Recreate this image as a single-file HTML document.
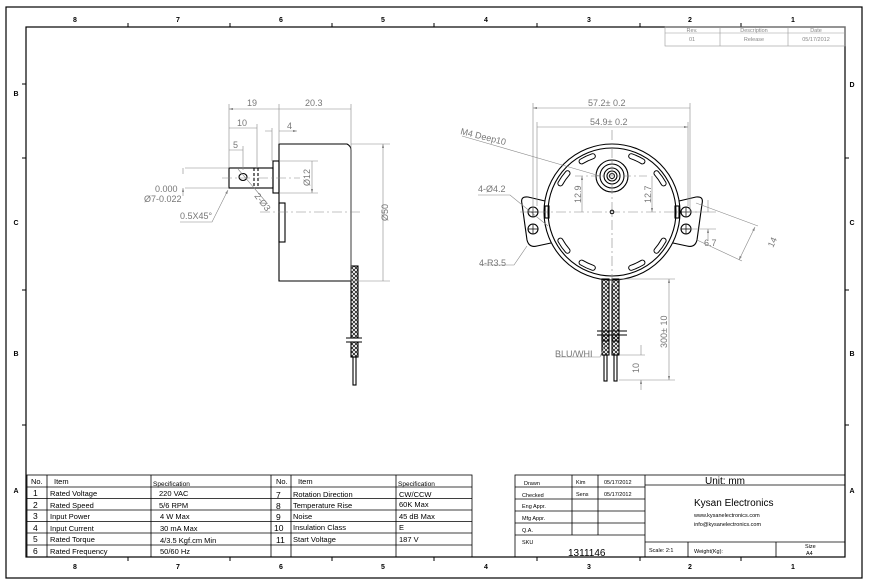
<!DOCTYPE html>
<html><head><meta charset="utf-8"><style>
html,body{margin:0;padding:0;background:#fff}
svg{display:block}
text{font-family:"Liberation Sans",sans-serif}
</style></head><body>
<svg width="870" height="585" viewBox="0 0 870 585" xmlns="http://www.w3.org/2000/svg">
<defs>
<marker id="a" viewBox="0 0 10 6" refX="10" refY="3" markerWidth="8" markerHeight="4" orient="auto-start-reverse"><path d="M0,0L10,3L0,6z" fill="#888"/></marker>
<pattern id="x" width="4" height="4" patternUnits="userSpaceOnUse"><path d="M0,0L4,4M4,0L0,4" stroke="#000" stroke-width="0.7"/></pattern>
</defs>
<rect x="6" y="7" width="856" height="571" fill="none" stroke="#000" stroke-width="1.2"/>
<rect x="26" y="27" width="819" height="530" fill="none" stroke="#000" stroke-width="1.2"/>
<g font-size="7" font-weight="bold" text-anchor="middle">
<text x="75" y="22">8</text><text x="178" y="22">7</text><text x="281" y="22">6</text><text x="383" y="22">5</text><text x="486" y="22">4</text><text x="589" y="22">3</text><text x="690" y="22">2</text><text x="793" y="22">1</text>
<text x="75" y="569">8</text><text x="178" y="569">7</text><text x="281" y="569">6</text><text x="383" y="569">5</text><text x="486" y="569">4</text><text x="589" y="569">3</text><text x="690" y="569">2</text><text x="793" y="569">1</text>
<text x="16" y="96">B</text><text x="16" y="225">C</text><text x="16" y="356">B</text><text x="16" y="493">A</text>
<text x="852" y="87">D</text><text x="852" y="225">C</text><text x="852" y="356">B</text><text x="852" y="493">A</text>
</g>
<g stroke="#000" stroke-width="1">
<path d="M128,23V27M230,23V27M332,23V27M434,23V27M537,23V27M640,23V27M741,23V27"/>
<path d="M128,557V561M230,557V561M332,557V561M434,557V561M537,557V561M640,557V561M741,557V561"/>
<path d="M26,84H22M26,158H22M26,290H22M26,425H22M845,158H849M845,290H849M845,425H849"/>
</g>
<!-- rev table -->
<g stroke="#999" stroke-width="0.6" fill="none"><rect x="665" y="27" width="180" height="19"/><path d="M665,33H845M720,27V46M788,27V46"/></g>
<g font-size="5.5" fill="#888" text-anchor="middle"><text x="692" y="32">Rev.</text><text x="754" y="32">Description</text><text x="816" y="32">Date</text><text x="692" y="41">01</text><text x="754" y="41">Release</text><text x="816" y="41">05/17/2012</text></g>

<!-- LEFT VIEW -->
<g fill="none" stroke="#000" stroke-width="1.1">
<path d="M279,144H347Q351,146 351,150V281H279Z"/>
<rect x="273" y="161" width="6" height="32"/>
<rect x="229" y="168" width="44" height="20"/>
<rect x="279" y="203" width="6" height="39"/>
<ellipse cx="243" cy="177" rx="4" ry="3.5"/>
<path d="M254,168V188M258,168V188" stroke-dasharray="3,2"/>
<rect x="351" y="266" width="7" height="72" fill="url(#x)"/>
<path d="M346,338H362M346,342H362"/>
<rect x="351" y="342" width="7" height="15" fill="url(#x)"/>
<rect x="353" y="357" width="3" height="28"/>
</g>
<g stroke="#888" stroke-width="0.6" fill="none">
<path d="M260,212H360" stroke-dasharray="10,3,2,3"/>
<path d="M222,178H300" stroke-dasharray="10,3,2,3"/>
<path d="M229,104V168M279,104V144M351,104V281M257,124V168M243,146V170M272,128V161M238,169L266,202"/>
<path d="M351,144H390M351,281H390M279,161H318M279,193H318M185,168H229M185,188H229"/>
<path d="M229,109H279M279,109H351M229,128H257M229,150H243M265,131H272M279,131H297" marker-end="url(#a)" marker-start="url(#a)"/>
<path d="M383,144V281M312,161V193" marker-end="url(#a)" marker-start="url(#a)"/>
<path d="M183,174V168M183,196V188" marker-end="url(#a)"/>
<path d="M180,222H212L228,190" marker-end="url(#a)"/>
</g>
<g font-size="9" fill="#777">
<text x="247" y="106">19</text><text x="305" y="106">20.3</text><text x="237" y="126">10</text><text x="233" y="148">5</text><text x="287" y="129">4</text>
<text x="155" y="192">0.000</text><text x="144" y="202">Ø7-0.022</text><text x="180" y="219">0.5X45°</text>
<text transform="translate(388,221) rotate(-90)">Ø50</text>
<text transform="translate(310,186) rotate(-90)">Ø12</text>
<text transform="translate(254,196) rotate(52)">2-Ø3</text>
</g>

<!-- RIGHT VIEW -->
<g fill="none" stroke="#000" stroke-width="1.1">
<path d="M545,201L528,197Q520,196 522,204L527,240Q529,248 537,246L551,243"/>
<path d="M679,201L696,197Q704,196 702,204L697,240Q695,248 687,246L673,243"/>
<circle cx="612" cy="212" r="68" fill="#fff"/>
<circle cx="612" cy="212" r="64"/>
<circle cx="533" cy="212" r="5"/><circle cx="533" cy="229" r="5"/>
<circle cx="686" cy="212" r="5"/><circle cx="686" cy="229" r="5"/>
<rect x="545" y="206" width="4" height="12"/><rect x="675" y="206" width="4" height="12"/>
<circle cx="612" cy="176" r="16"/><circle cx="612" cy="176" r="12"/><circle cx="612" cy="176" r="8"/><circle cx="612" cy="176" r="5"/><circle cx="612" cy="176" r="2.5"/>
<circle cx="612" cy="212" r="1.8"/>
<g id="slots" stroke-linecap="round" stroke-width="6">
<path d="M663.6,240.6A59,59 0 0 1 656.5,250.7M642.4,262.6A59,59 0 0 1 631.2,267.8M592.8,267.8A59,59 0 0 1 581.6,262.6M567.5,250.7A59,59 0 0 1 560.4,240.6M560.4,183.4A59,59 0 0 1 567.5,173.3M581.6,161.4A59,59 0 0 1 592.8,156.2M631.2,156.2A59,59 0 0 1 642.4,161.4M656.5,173.3A59,59 0 0 1 663.6,183.4"/>
</g>
<g stroke-linecap="round" stroke-width="4" stroke="#fff">
<path d="M663.6,240.6A59,59 0 0 1 656.5,250.7M642.4,262.6A59,59 0 0 1 631.2,267.8M592.8,267.8A59,59 0 0 1 581.6,262.6M567.5,250.7A59,59 0 0 1 560.4,240.6M560.4,183.4A59,59 0 0 1 567.5,173.3M581.6,161.4A59,59 0 0 1 592.8,156.2M631.2,156.2A59,59 0 0 1 642.4,161.4M656.5,173.3A59,59 0 0 1 663.6,183.4"/>
</g>
<rect x="602" y="279" width="7" height="62" fill="url(#x)"/><rect x="612" y="279" width="7" height="62" fill="url(#x)"/>
<path d="M597,331H627M597,335H627"/>
<rect x="602" y="335" width="7" height="20" fill="url(#x)"/><rect x="612" y="335" width="7" height="20" fill="url(#x)"/>
<rect x="604" y="355" width="3" height="26"/><rect x="614" y="355" width="3" height="26"/>
</g>
<g stroke="#000" stroke-width="0.7"><path d="M528,212H538M533,207V217M528,229H538M533,224V234M681,212H691M686,207V217M681,229H691M686,224V234"/></g>
<g stroke="#888" stroke-width="0.6" fill="none">
<path d="M520,212H700M612,130V285" stroke-dasharray="10,3,2,3"/>
<path d="M575,176H650" stroke-dasharray="8,3,2,3"/>
<path d="M533,103V212M690,103V212M537,122V206M688,122V206"/>
<path d="M533,108H690M537,127H688" marker-end="url(#a)" marker-start="url(#a)"/>
<path d="M582,176V212M652,176V212" marker-end="url(#a)" marker-start="url(#a)"/>
<path d="M696,203L758,226M697,240L742,261"/>
<path d="M755,227L739,260" marker-end="url(#a)" marker-start="url(#a)"/>
<path d="M690,212H716M690,229H716M708,200V212M708,241V229" marker-end="url(#a)"/>
<path d="M619,279H675M619,380H675M619,355H645"/>
<path d="M669,279V380" marker-end="url(#a)" marker-start="url(#a)"/>
<path d="M641,345V355M641,390V380" marker-end="url(#a)"/>
<path d="M462,136L600,176M478,195H510L548,226M480,265H514L527,246M556,357H600L605,345"/>
</g>
<g font-size="9" fill="#777">
<text x="588" y="106">57.2± 0.2</text><text x="590" y="125">54.9± 0.2</text>
<text transform="translate(460,134) rotate(14)">M4 Deep10</text>
<text x="478" y="192">4-Ø4.2</text><text x="479" y="266">4-R3.5</text><text x="555" y="357">BLU/WHI</text>
<text transform="translate(581,203) rotate(-90)">12.9</text><text transform="translate(651,203) rotate(-90)">12.7</text>
<text x="704" y="246">6.7</text><text transform="translate(773,248) rotate(-65)">14</text>
<text transform="translate(667,348) rotate(-90)">300± 10</text><text transform="translate(639,373) rotate(-90)">10</text>
</g>

<!-- SPEC TABLE -->
<g stroke="#000" stroke-width="0.8" fill="none">
<rect x="27" y="475" width="445" height="82"/>
<path d="M27,487H472M27,498.5H472M27,510H472M27,521.5H472M27,533H472M27,545H472"/>
<path d="M47,475V557M151,475V557M271,475V557M291,475V557M396,475V557"/>
</g>
<g font-size="7.5" fill="#000">
<text x="31" y="484">No.</text><text x="54" y="484">Item</text><text x="153" y="486" font-size="6.5">Specification</text>
<text x="276" y="484">No.</text><text x="298" y="484">Item</text><text x="398" y="486" font-size="6.5">Specification</text>
<g font-size="8.5"><text x="33" y="496">1</text><text x="33" y="508">2</text><text x="33" y="519">3</text><text x="33" y="531">4</text><text x="33" y="542">5</text><text x="33" y="554">6</text>
<text x="276" y="498">7</text><text x="276" y="509">8</text><text x="276" y="520">9</text><text x="274" y="531">10</text><text x="276" y="543">11</text></g>
<text x="50" y="496">Rated Voltage</text><text x="50" y="508">Rated Speed</text><text x="50" y="519">Input Power</text><text x="50" y="531">Input Current</text><text x="50" y="542">Rated Torque</text><text x="50" y="554">Rated Frequency</text>
<text x="159" y="496">220 VAC</text><text x="159" y="508">5/6 RPM</text><text x="160" y="519">4 W Max</text><text x="160" y="531">30 mA Max</text><text x="160" y="543">4/3.5 Kgf.cm Min</text><text x="160" y="554">50/60 Hz</text>
<text x="293" y="497">Rotation Direction</text><text x="293" y="508">Temperature Rise</text><text x="293" y="519">Noise</text><text x="293" y="530">Insulation Class</text><text x="293" y="542">Start Voltage</text>
<text x="399" y="497">CW/CCW</text><text x="399" y="507">60K Max</text><text x="399" y="519">45 dB Max</text><text x="399" y="530">E</text><text x="399" y="542">187 V</text>
</g>

<!-- TITLE BLOCK -->
<g stroke="#000" stroke-width="0.8" fill="none">
<rect x="515" y="475" width="330" height="82"/>
<path d="M515,487H645M515,499H645M515,511H645M515,523H645M515,535H645"/>
<path d="M572,475V535M598,475V535M645,475V557M645,485H845M645,542H845M688,542V557M776,542V557"/>
</g>
<g font-size="5.5" fill="#000">
<text x="524" y="485">Drawn</text><text x="576" y="484">Kim</text><text x="604" y="484">05/17/2012</text>
<text x="522" y="497">Checked</text><text x="576" y="496">Sens</text><text x="604" y="496">05/17/2012</text>
<text x="522" y="508">Eng Appr.</text><text x="522" y="520">Mfg Appr.</text><text x="522" y="532">Q.A.</text><text x="522" y="544">SKU</text>
<text x="649" y="552">Scale: 2:1</text><text x="694" y="553">Weight(Kg):</text><text x="805" y="548">Size</text><text x="806" y="555">A4</text>
<text x="694" y="517">www.kysanelectronics.com</text><text x="694" y="526">info@kysanelectronics.com</text>
</g>
<text x="568" y="556" font-size="10">1311146</text>
<text x="705" y="484" font-size="10">Unit: mm</text>
<text x="694" y="506" font-size="10">Kysan Electronics</text>
</svg>
</body></html>
